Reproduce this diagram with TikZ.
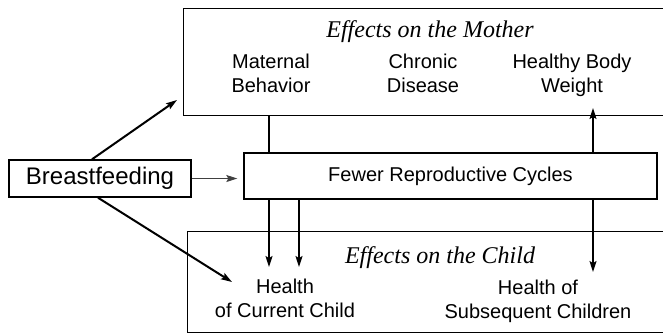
\documentclass[tikz,border=0pt]{standalone}
\usepackage{fontspec}
\setmainfont{Liberation Sans}
\newfontfamily\titlefont{Liberation Serif}
\usetikzlibrary{positioning,arrows.meta}

\begin{document}
\begin{tikzpicture}[x=1pt, y=-1pt, >={Stealth[length=5.5pt,width=3.5pt,inset=1pt]},
  panel/.style={rectangle, draw, line width=0.7pt, inner sep=0pt},
  item/.style={align=center, inner sep=0pt, anchor=north, font=\fontsize{10}{12}\selectfont},
  heading/.style={inner sep=0pt, anchor=base, font=\titlefont\itshape\fontsize{12}{14}\selectfont},
  link/.style={->, line width=0.7pt}]
  \useasboundingbox (0,0) rectangle (331.5,167);
  \clip (0,0) rectangle (331.5,167);

  % Nodes
  \node[panel, anchor=north west, minimum width=260pt, minimum height=53.5pt] (mother) at (91.5,4) {};
  \node[panel, anchor=north west, minimum width=260pt, minimum height=50.5pt] (child) at (93.5,115.5) {};
  \node[panel, minimum width=91pt, minimum height=18.5pt, font=\fontsize{12}{14}\selectfont] (breast) at (50,89.25) {Breastfeeding};
  \node[panel, minimum width=206.5pt, minimum height=23pt, font=\fontsize{10}{12}\selectfont] (fewer) at (225.25,88) {Fewer Reproductive Cycles};

  \node[heading] (motherTitle) at (215,18.5) {Effects on the Mother};
  \node[item] (maternal) at (135.5,27) {Maternal\\Behavior};
  \node[item] (chronic) at (211.5,27) {Chronic\\Disease};
  \node[item] (weight) at (286,27) {Healthy Body\\Weight};

  \node[heading] (childTitle) at (220,131.5) {Effects on the Child};
  \node[item] (current) at (142.5,139.5) {Health\\of Current Child};
  \node[item] (subsequent) at (269,140) {Health of\\Subsequent Children};

  % Arrow ends
  \coordinate (tipA) at (134.5,133.5);
  \coordinate (tipB) at (149.5,133.5);
  \coordinate (tipC) at (296.5,54);
  \coordinate (tipD) at (296.5,136);
  \coordinate (tipE) at (88.5,50);
  \coordinate (tipF) at (116,141);

  % Arrows
  \draw[line width=0.7pt] (mother.south -| tipA) -- (fewer.north -| tipA);
  \draw[link] (fewer.south -| tipA) -- (tipA);
  \draw[link] (fewer.south -| tipB) -- (tipB);
  \draw[link] (fewer.north -| tipC) -- (tipC);
  \draw[link] (fewer.south -| tipD) -- (tipD);
  \draw[link, line width=1pt] ([xshift=-4pt]breast.north) -- (tipE);
  \draw[link, line width=1pt] ([xshift=-1pt]breast.south) -- (tipF);
  \draw[link, line width=0.5pt, black!75, shorten >=3pt] (breast.east) -- (breast.east -| fewer.west);
\end{tikzpicture}
\end{document}
